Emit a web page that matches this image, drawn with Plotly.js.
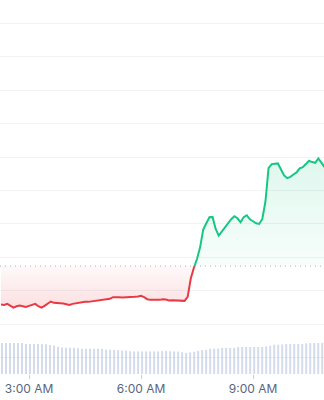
<!DOCTYPE html>
<html>
<head>
<meta charset="utf-8">
<script src="https://cdn.plot.ly/plotly-3.0.1.min.js"></script>
<style>
  html, body { margin: 0; padding: 0; background: #ffffff; }
  #chart { width: 324px; height: 400px; }
</style>
</head>
<body>
<div id="chart"></div>
<script>
// ---- data ----
var dayStr = '2024-01-15';
var priceStartMin = 2 * 60 + 15;   // first sample 2:15 AM
var priceStepMin = 5;              // 5-minute samples
var prices = [
  101.59, 101.58, 101.61, 101.55, 101.50, 101.54, 101.56, 101.54, 101.52, 101.55,
  101.58, 101.61, 101.54, 101.50, 101.55, 101.62, 101.68, 101.64, 101.64, 101.64,
  101.62, 101.60, 101.58, 101.61, 101.63, 101.64, 101.65, 101.67, 101.67, 101.68,
  101.71, 101.72, 101.73, 101.73, 101.74, 101.76, 101.81, 101.82, 101.81, 101.80,
  101.80, 101.81, 101.81, 101.82, 101.83, 101.85, 101.81, 101.75, 101.73, 101.74,
  101.73, 101.73, 101.75, 101.74, 101.71, 101.72, 101.72, 101.71, 101.70, 101.70,
  101.82, 102.37, 102.69, 102.95, 103.30, 103.83, 104.02, 104.20, 104.21, 103.85,
  103.65, 103.77, 103.91, 104.00, 104.14, 104.23, 104.17, 104.05, 104.20, 104.26,
  104.14, 104.08, 104.02, 104.00, 104.15, 104.67, 105.67, 105.79, 105.79, 105.81,
  105.63, 105.45, 105.37, 105.41, 105.48, 105.54, 105.66, 105.70, 105.79, 105.89,
  105.85, 105.83, 105.96, 105.84, 105.70
];
var openPrice = 102.74;

var volStartSec = 2 * 3600 + 16 * 60 + 35;
var volStepSec = 386;
var volumes = [
  8.29, 8.29, 8.29, 8.29, 8.29, 8.25, 8.05, 8.02, 8.02, 8.02,
  8.00, 7.95, 7.75, 7.57, 7.30, 7.10, 7.03, 7.03, 7.00, 6.90,
  6.76, 6.76, 6.76, 6.76, 6.74, 6.70, 6.50, 6.50, 6.45, 6.40,
  6.25, 6.23, 6.10, 6.04, 6.04, 6.04, 6.04, 6.04, 6.04, 6.04,
  6.10, 6.20, 6.10, 6.04, 6.00, 5.80, 5.61, 5.80, 5.90, 6.20,
  6.40, 6.50, 6.76, 6.80, 6.80, 6.95, 6.95, 6.95, 7.00, 7.22,
  7.22, 7.22, 7.22, 7.22, 7.22, 7.22, 7.40, 7.57, 7.83, 7.83,
  7.90, 8.02, 8.02, 8.02, 8.02, 8.05, 8.20, 8.29, 8.29, 8.29,
  8.29
];

var gridVals = [100, 101, 102, 103, 104, 105, 106, 107, 108, 109, 110];

// ---- helpers ----
function pad(n) { return (n < 10 ? '0' : '') + n; }
function fmtSec(s) {
  s = Math.round(s);
  var h = Math.floor(s / 3600), m = Math.floor((s % 3600) / 60), sec = s % 60;
  return dayStr + ' ' + pad(h) + ':' + pad(m) + ':' + pad(sec);
}
function ms(str) { return new Date(str.replace(' ', 'T') + 'Z').getTime(); }

var times = prices.map(function (_, i) { return (priceStartMin + i * priceStepMin) * 60; });
var volTimes = volumes.map(function (_, i) { return fmtSec(volStartSec + i * volStepSec); });

// split the line where it crosses the opening price
var redX = [], redY = [], greenX = [], greenY = [];
var crossed = false;
for (var i = 0; i < prices.length; i++) {
  if (!crossed) {
    redX.push(fmtSec(times[i])); redY.push(prices[i]);
    if (i + 1 < prices.length && prices[i] < openPrice && prices[i + 1] >= openPrice) {
      var f = (openPrice - prices[i]) / (prices[i + 1] - prices[i]);
      var tc = fmtSec(times[i] + f * (times[i + 1] - times[i]));
      redX.push(tc); redY.push(openPrice);
      greenX.push(tc); greenY.push(openPrice);
      crossed = true;
    }
  } else {
    greenX.push(fmtSec(times[i])); greenY.push(prices[i]);
  }
}
var baseR = redX.map(function () { return openPrice; });
var baseG = greenX.map(function () { return openPrice; });

var redMin = Math.min.apply(null, redY);
var greenMax = Math.max.apply(null, greenY);

var traces = [
  { x: redX, y: baseR, type: 'scatter', mode: 'lines', line: { width: 0, color: 'rgba(0,0,0,0)' }, hoverinfo: 'skip', showlegend: false },
  { x: redX, y: redY, type: 'scatter', mode: 'lines', line: { width: 2, color: '#ea3943' },
    fill: 'tonexty',
    fillgradient: { type: 'vertical', start: redMin, stop: openPrice,
      colorscale: [[0, 'rgba(234,57,67,0.16)'], [1, 'rgba(234,57,67,0.03)']] },
    showlegend: false },
  { x: greenX, y: baseG, type: 'scatter', mode: 'lines', line: { width: 0, color: 'rgba(0,0,0,0)' }, hoverinfo: 'skip', showlegend: false },
  { x: greenX, y: greenY, type: 'scatter', mode: 'lines', line: { width: 2, color: '#16c784' },
    fill: 'tonexty',
    fillgradient: { type: 'vertical', start: openPrice, stop: greenMax,
      colorscale: [[0, 'rgba(22,199,132,0.03)'], [1, 'rgba(22,199,132,0.14)']] },
    showlegend: false },
  { x: volTimes, y: volumes, type: 'bar', yaxis: 'y2', width: 192000,
    marker: { color: 'rgba(160,178,210,0.45)', line: { width: 0 } }, showlegend: false }
];

var layout = {
  width: 324, height: 400,
  margin: { l: 0, r: 0, t: 0, b: 26, pad: 0 },
  paper_bgcolor: '#ffffff', plot_bgcolor: '#ffffff',
  showlegend: false,
  xaxis: {
    type: 'date',
    range: [dayStr + ' 02:13:22', dayStr + ' 10:54:07'],
    tick0: dayStr + ' 00:00:00', dtick: 3 * 3600 * 1000,
    tickformat: '%-I:%M %p',
    ticks: 'outside', ticklen: 4, tickwidth: 1, tickcolor: '#c9ced6',
    showgrid: false, zeroline: false, showline: false,
    tickfont: { family: 'Inter, "Open Sans", sans-serif', size: 12, color: '#58667e' }
  },
  yaxis: {
    range: [99.513, 110.697],
    tickmode: 'array', tickvals: gridVals,
    showticklabels: false, ticks: '',
    showgrid: true, gridcolor: '#f1f2f4', gridwidth: 1,
    zeroline: false, showline: false
  },
  yaxis2: {
    overlaying: 'y', range: [0, 100],
    showgrid: false, showticklabels: false, zeroline: false, showline: false, ticks: ''
  },
  shapes: [{
    type: 'line', xref: 'paper', x0: 0, x1: 1, yref: 'y', y0: openPrice, y1: openPrice,
    line: { color: '#a7adb5', width: 1, dash: '1px,4px' }, layer: 'above'
  }]
};

Plotly.newPlot('chart', traces, layout, { staticPlot: true, displayModeBar: false });
</script>
</body>
</html>
